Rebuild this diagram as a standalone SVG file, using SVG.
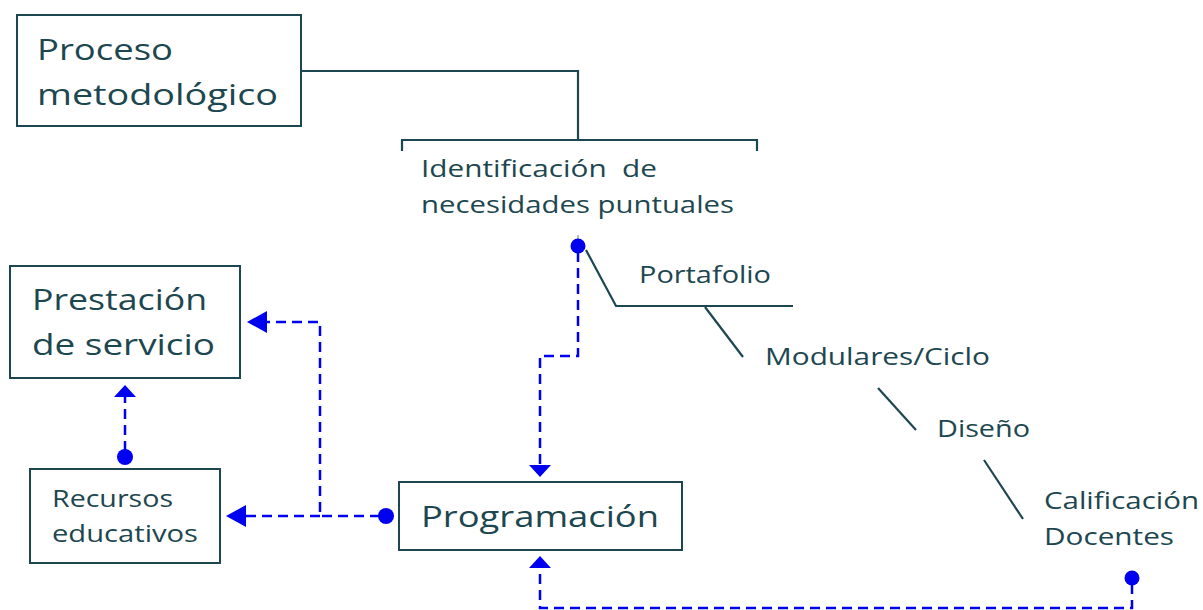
<svg xmlns="http://www.w3.org/2000/svg" width="1203" height="610" viewBox="0 0 1203 610">
<defs>
<style>
.box{fill:#fff;stroke:#1d4750;stroke-width:2}
.t{font-family:"Open Sans","Noto Sans",sans-serif;fill:#1d4750}
.big{font-size:30px}
.mid{font-size:23px}
.ln{fill:none;stroke:#1d4750;stroke-width:2.2}
.d{fill:none;stroke:#0000f0;stroke-width:2.5;stroke-dasharray:10 6}
.dot{fill:#0000f0}
</style>
</defs>
<rect width="1203" height="610" fill="#fff"/>
<g id="connectors">
<polyline class="ln" points="301,71 578,71 578,140"/>
<polyline class="ln" points="402,151 402,140 757,140 757,151"/>
<line x1="578" y1="235" x2="578" y2="246" stroke="#9aa" stroke-width="1.5"/>
<polyline class="ln" points="586,250 616,306 793,306"/>
<line class="ln" x1="705" y1="307" x2="743" y2="357"/>
<line class="ln" x1="878" y1="388" x2="916" y2="430"/>
<line class="ln" x1="984" y1="460" x2="1023" y2="519"/>
<polyline class="d" points="578,252 578,356 540,356 540,465"/>
<path d="M529,465 L540,477 L551,465 Z" class="dot"/>
<polyline class="d" points="1132,584 1132,608 540,608 540,568"/>
<path d="M529,568 L540,556 L551,568 Z" class="dot"/>
<polyline class="d" points="380,516 320,516 320,322 267,322"/>
<path d="M267,311 L247,322 L267,333 Z" class="dot"/>
<line class="d" x1="320" y1="516" x2="246" y2="516"/>
<path d="M246,505 L226,516 L246,527 Z" class="dot"/>
<line class="d" x1="125" y1="451" x2="125" y2="397"/>
<path d="M114,397 L125,385 L136,397 Z" class="dot"/>
<circle class="dot" cx="578" cy="246" r="7.5"/>
<circle class="dot" cx="1132" cy="578" r="7.5"/>
<circle class="dot" cx="386" cy="516" r="8"/>
<circle class="dot" cx="125" cy="457" r="8"/>
</g>
<g id="proceso">
<rect class="box" x="17" y="15" width="284" height="111"/>
<text class="t big" x="37" y="60" textLength="136" lengthAdjust="spacingAndGlyphs">Proceso</text>
<text class="t big" x="37" y="105" textLength="241" lengthAdjust="spacingAndGlyphs">metodológico</text>
</g>
<g id="identificacion">
<text class="t mid" x="421" y="177" xml:space="preserve" textLength="236" lengthAdjust="spacingAndGlyphs">Identificación  de</text>
<text class="t mid" x="421" y="213" textLength="313" lengthAdjust="spacingAndGlyphs">necesidades puntuales</text>
</g>
<g id="portafolio"><text class="t mid" x="639" y="283" textLength="132" lengthAdjust="spacingAndGlyphs">Portafolio</text></g>
<g id="modulares"><text class="t mid" x="765" y="365" textLength="225" lengthAdjust="spacingAndGlyphs">Modulares/Ciclo</text></g>
<g id="diseno"><text class="t mid" x="937" y="437" textLength="93" lengthAdjust="spacingAndGlyphs">Diseño</text></g>
<g id="calificacion">
<text class="t mid" x="1044" y="509" textLength="155" lengthAdjust="spacingAndGlyphs">Calificación</text>
<text class="t mid" x="1044" y="545" textLength="130" lengthAdjust="spacingAndGlyphs">Docentes</text>
</g>
<g id="prestacion">
<rect class="box" x="10" y="266" width="230" height="112"/>
<text class="t big" x="32" y="310" textLength="175" lengthAdjust="spacingAndGlyphs">Prestación</text>
<text class="t big" x="32" y="355" textLength="183" lengthAdjust="spacingAndGlyphs">de servicio</text>
</g>
<g id="recursos">
<rect class="box" x="30" y="469" width="190" height="94"/>
<text class="t mid" x="52" y="507" textLength="121" lengthAdjust="spacingAndGlyphs">Recursos</text>
<text class="t mid" x="52" y="542" textLength="146" lengthAdjust="spacingAndGlyphs">educativos</text>
</g>
<g id="programacion">
<rect class="box" x="399" y="482" width="283" height="68"/>
<text class="t big" x="421" y="527" textLength="238" lengthAdjust="spacingAndGlyphs">Programación</text>
</g>
</svg>
